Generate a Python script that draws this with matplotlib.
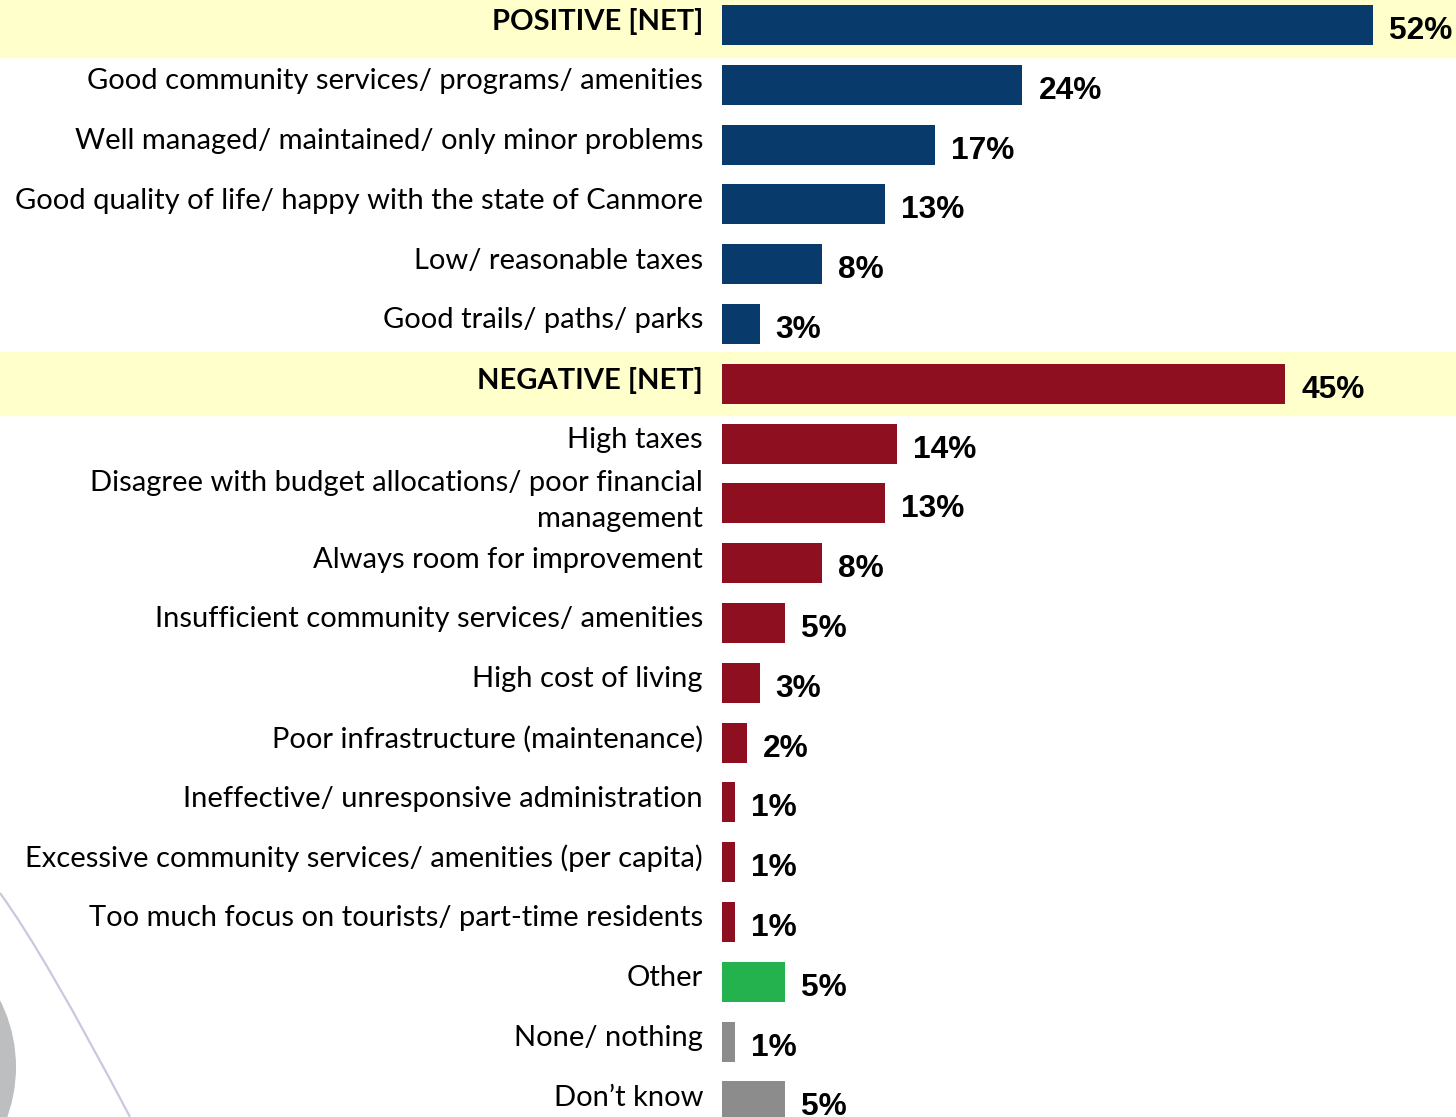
import numpy as np
import matplotlib.pyplot as plt
from matplotlib.patches import Circle, PathPatch
from matplotlib.path import Path

labels = [
    "POSITIVE [NET]",
    "Good community services/ programs/ amenities",
    "Well managed/ maintained/ only minor problems",
    "Good quality of life/ happy with the state of Canmore",
    "Low/ reasonable taxes",
    "Good trails/ paths/ parks",
    "NEGATIVE [NET]",
    "High taxes",
    "Disagree with budget allocations/ poor financial\nmanagement",
    "Always room for improvement",
    "Insufficient community services/ amenities",
    "High cost of living",
    "Poor infrastructure (maintenance)",
    "Ineffective/ unresponsive administration",
    "Excessive community services/ amenities (per capita)",
    "Too much focus on tourists/ part-time residents",
    "Other",
    "None/ nothing",
    "Don\u2019t know",
]
values = [52, 24, 17, 13, 8, 3, 45, 14, 13, 8, 5, 3, 2, 1, 1, 1, 5, 1, 5]
groups = ["pos"] * 6 + ["neg"] * 10 + ["other", "none", "none"]
net_rows = [0, 6]

colors = {"pos": "#083A6B", "neg": "#8E1020", "other": "#24B24F", "none": "#8C8C8C"}

W, H = 1456, 1117
fig = plt.figure(figsize=(W / 100, H / 100), dpi=100)
ax = fig.add_axes([0, 0, 1, 1])

# pixel geometry of the plot area
px_per_pct = 12.52
x0_px = 722
row_px = 59.8
row0_px = 25

ax.set_xlim(-x0_px / px_per_pct, (W - x0_px) / px_per_pct)
ax.set_ylim((H - row0_px) / row_px, -row0_px / row_px)
ax.axis("off")

y = np.arange(len(values))

# highlight bands for the net rows
for r in net_rows:
    ax.axhspan(r - 0.53, r + 0.53, color="#FFFFCC", zorder=0)

ax.barh(y, values, height=0.67, color=[colors[g] for g in groups], zorder=2)

label_x = -19 / px_per_pct
for i, (lab, v) in enumerate(zip(labels, values)):
    bold = i in net_rows
    ly = i - 0.04 if "\n" in lab else i - 0.06
    ax.text(label_x, ly, lab, ha="right", va="center",
            fontsize=21.0, family="Lato", fontweight="bold" if bold else "normal",
            color="black", linespacing=1.5, zorder=3)
    ax.text(v + 16 / px_per_pct, i + 0.1, f"{v}%", ha="left", va="center",
            fontsize=22.8, family="Liberation Sans", fontweight="bold",
            color="black", zorder=3)

# background decoration in the lower left corner
deco = fig.add_axes([0, 0, 1, 1], zorder=-1)
deco.set_xlim(0, W)
deco.set_ylim(H, 0)
deco.axis("off")
deco.add_patch(Circle((-132, 1067), 148, color="#BDBEC0", lw=0))
curve = Path([(0, 893), (45, 955), (130, 1117)],
             [Path.MOVETO, Path.CURVE3, Path.CURVE3])
deco.add_patch(PathPatch(curve, fill=False, edgecolor="#C9C8E0", lw=1.6))

fig.savefig("out.png", dpi=100)
